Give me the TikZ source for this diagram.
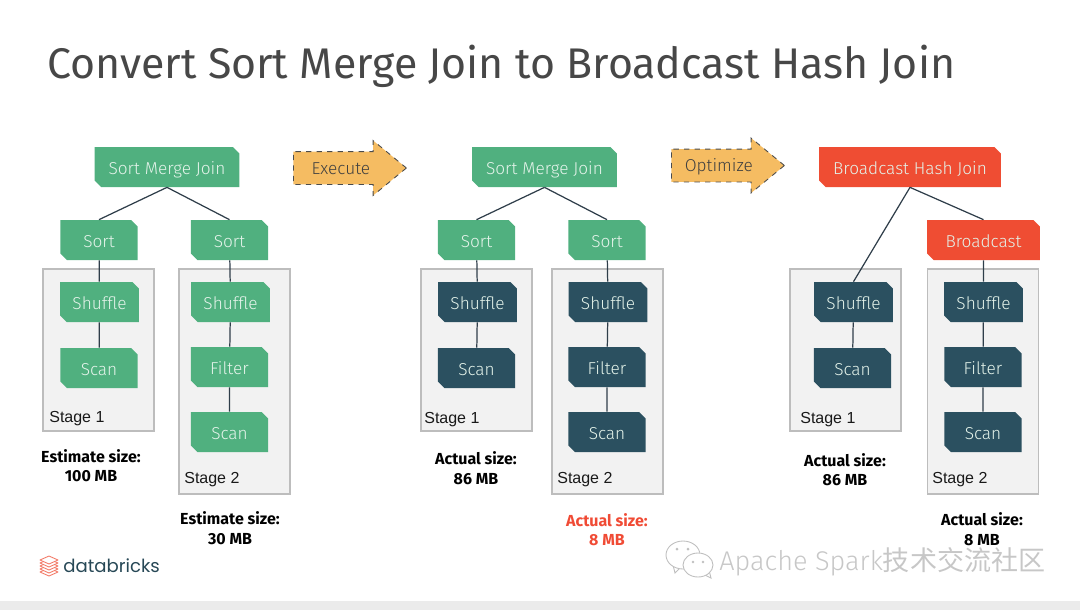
\documentclass[tikz,border=0pt]{standalone}
\usepackage{fontspec}
\usepackage{xcolor}
\usetikzlibrary{shapes.misc,shapes.arrows}
\setmainfont{Fira Sans}
\newfontfamily\lightfont{Fira Sans Light}
\newfontfamily\labelfont{Liberation Sans}
\newfontfamily\logofont{Poppins}
\newfontfamily\cjkfont{Noto Sans CJK SC}
\definecolor{opgreen}{HTML}{50B07F}
\definecolor{opdark}{HTML}{2B5060}
\definecolor{opred}{HTML}{EF4D33}
\definecolor{optext}{HTML}{E4F3EA}
\definecolor{edgecol}{HTML}{2F3E4A}
\definecolor{arrowfill}{HTML}{F5BC62}
\definecolor{sizered}{HTML}{F04B35}
\tikzset{
    opnode/.style={chamfered rectangle,chamfered rectangle corners={north east,south west},
        chamfered rectangle xsep=0.08cm,chamfered rectangle ysep=0.05cm,
        minimum height=0.8cm,minimum width=1.55cm,inner sep=0pt,
        text height=0.28cm,text depth=0cm,
        text=optext,font=\lightfont\fontsize{9.8}{11}\selectfont},
    greenop/.style={opnode,fill=opgreen},
    darkop/.style={opnode,fill=opdark},
    redop/.style={opnode,fill=opred},
    stagebox/.style={draw=black!26,fill=black!5,line width=0.7pt,minimum width=2.22cm,inner sep=0pt},
    stagelabel/.style={font=\labelfont\fontsize{9.1}{11}\selectfont,text=black!90,inner sep=0pt,anchor=west},
    sizelabel/.style={font=\fontsize{9.1}{11}\selectfont\bfseries,align=center,inner sep=0pt},
    edge/.style={draw=edgecol,line width=0.7pt},
    flowarrow/.style={single arrow,draw=black!70,dashed,fill=arrowfill,line width=0.5pt,
        minimum height=2.26cm,minimum width=1.08cm,single arrow head extend=0.22cm,
        single arrow tip angle=79,
        inner sep=0pt,text height=0.44cm,text depth=0.2cm,anchor=tail,
        text=black!75,font=\lightfont\fontsize{9.8}{11}\selectfont}
}
\begin{document}
\begin{tikzpicture}[x=0.02cm,y=-0.02cm]
    \useasboundingbox (0,0) rectangle (1080,610);

    % Footer and title
    \fill[black!8] (0,601) rectangle (1080,610);
    \node[anchor=west,inner sep=0pt,text=black!72,font=\fontsize{24.4}{30}\selectfont] (title) at (47,66)
        {Convert Sort Merge Join to Broadcast Hash Join};

    % Stage boxes
    \node[stagebox,minimum height=3.24cm] (stagea) at (98.5,350) {};
    \node[stagebox,minimum height=4.5cm] (stageb) at (234.5,381.5) {};
    \node[stagebox,minimum height=3.24cm] (stagec) at (476.5,350) {};
    \node[stagebox,minimum height=4.5cm] (staged) at (607.5,381.5) {};
    \node[stagebox,minimum height=3.24cm] (stagee) at (845.5,350) {};
    \node[stagebox,minimum height=4.5cm] (stagef) at (983,381.5) {};

    \node[stagelabel] (labela) at (49,419) {Stage 1};
    \node[stagelabel] (labelb) at (184,480) {Stage 2};
    \node[stagelabel] (labelc) at (424,420) {Stage 1};
    \node[stagelabel] (labeld) at (557,480) {Stage 2};
    \node[stagelabel] (labele) at (800,420) {Stage 1};
    \node[stagelabel] (labelf) at (932,480) {Stage 2};

    % Estimated plan
    \node[greenop,minimum width=2.9cm] (joina) at (167,167) {Sort Merge Join};
    \node[greenop] (sorta) at (99,240) {Sort};
    \node[greenop] (sortb) at (229.5,240) {Sort};
    \node[greenop,minimum width=1.58cm] (shufa) at (99.5,302) {Shuffle};
    \node[greenop] (scana) at (99,368) {Scan};
    \node[greenop,minimum width=1.58cm] (shufb) at (230.5,302) {Shuffle};
    \node[greenop] (filtb) at (229.5,367) {Filter};
    \node[greenop] (scanb) at (229.5,432) {Scan};
    \draw[edge] (joina.south) -- (sorta.north);
    \draw[edge] (joina.south) -- (sortb.north);
    \draw[edge] (sorta) -- (shufa);
    \draw[edge] (shufa) -- (scana);
    \draw[edge] (sortb) -- (shufb);
    \draw[edge] (shufb) -- (filtb);
    \draw[edge] (filtb) -- (scanb);

    % After execution
    \node[greenop,minimum width=2.9cm] (joinb) at (544.5,167) {Sort Merge Join};
    \node[greenop] (sortc) at (476.5,240) {Sort};
    \node[greenop] (sortd) at (607,240) {Sort};
    \node[darkop,minimum width=1.58cm] (shufc) at (477.5,302) {Shuffle};
    \node[darkop] (scanc) at (476.5,368) {Scan};
    \node[darkop,minimum width=1.58cm] (shufd) at (608,302) {Shuffle};
    \node[darkop] (filtd) at (607,367) {Filter};
    \node[darkop] (scand) at (607,432) {Scan};
    \draw[edge] (joinb.south) -- (sortc.north);
    \draw[edge] (joinb.south) -- (sortd.north);
    \draw[edge] (sortc) -- (shufc);
    \draw[edge] (shufc) -- (scanc);
    \draw[edge] (sortd) -- (shufd);
    \draw[edge] (shufd) -- (filtd);
    \draw[edge] (filtd) -- (scand);

    % Optimized plan
    \node[redop,minimum width=3.64cm] (joinc) at (910,167) {Broadcast Hash Join};
    \node[redop,minimum width=2.26cm] (bcast) at (983.5,240) {Broadcast};
    \node[darkop,minimum width=1.58cm] (shufe) at (853.5,302) {Shuffle};
    \node[darkop] (scane) at (852.5,368) {Scan};
    \node[darkop,minimum width=1.58cm] (shuff) at (983.5,302) {Shuffle};
    \node[darkop] (filtf) at (983,367) {Filter};
    \node[darkop] (scanf) at (983,432) {Scan};
    \draw[edge] (joinc.south) -- (shufe.north);
    \draw[edge] (joinc.south) -- (bcast.north);
    \draw[edge] (shufe) -- (scane);
    \draw[edge] (bcast) -- (shuff);
    \draw[edge] (shuff) -- (filtf);
    \draw[edge] (filtf) -- (scanf);

    % Arrows between the plans
    \node[flowarrow] (execute) at (293,168) {\hspace{1pt}Execute};
    \node[flowarrow] (optimize) at (671,165.5) {\hspace{1pt}Optimize};

    % Sizes
    \node[sizelabel] (sizea) at (91,465.5) {Estimate size:\\100 MB};
    \node[sizelabel] (sizeb) at (230,528) {Estimate size:\\30 MB};
    \node[sizelabel] (sizec) at (476,468) {Actual size:\\86 MB};
    \node[sizelabel,text=sizered] (sized) at (607,529.5) {Actual size:\\8 MB};
    \node[sizelabel] (sizee) at (845,469.5) {Actual size:\\86 MB};
    \node[sizelabel] (sizef) at (982,529) {Actual size:\\8 MB};

    % Logo
    \foreach \y in {572,569,566,563,560}
        \draw[draw=opred!75,fill=white,line width=0.5pt,line join=round]
            (40,\y) -- (49,\y-4) -- (58,\y) -- (49,\y+4) -- cycle;
    \node[anchor=west,inner sep=0pt,text=opdark!90!black,font=\logofont\fontsize{10.3}{12}\selectfont] (logo) at (63,565.5) {databricks};

    % Watermark
    \draw[black!25,fill=white,line width=0.5pt] (673,565) -- (675,573) -- (680,568) -- cycle;
    \draw[black!25,fill=white,line width=0.5pt] (683,555) ellipse (17 and 14);
    \draw[black!25,fill=white,line width=0.5pt] (703,574) -- (711,578) -- (709,570) -- cycle;
    \draw[black!25,fill=white,line width=0.5pt] (698,565) ellipse (15 and 12);
    \fill[black!25] (677,549) circle (1.5) (688,549) circle (1.5) (693,562) circle (1.3) (703,562) circle (1.3);
    \node[anchor=west,inner sep=0pt,text=black!22,font=\lightfont\fontsize{15.4}{17}\selectfont] (mark) at (719,561.5)
        {Apache Spark{\cjkfont 技术交流社区}};
\end{tikzpicture}
\end{document}
